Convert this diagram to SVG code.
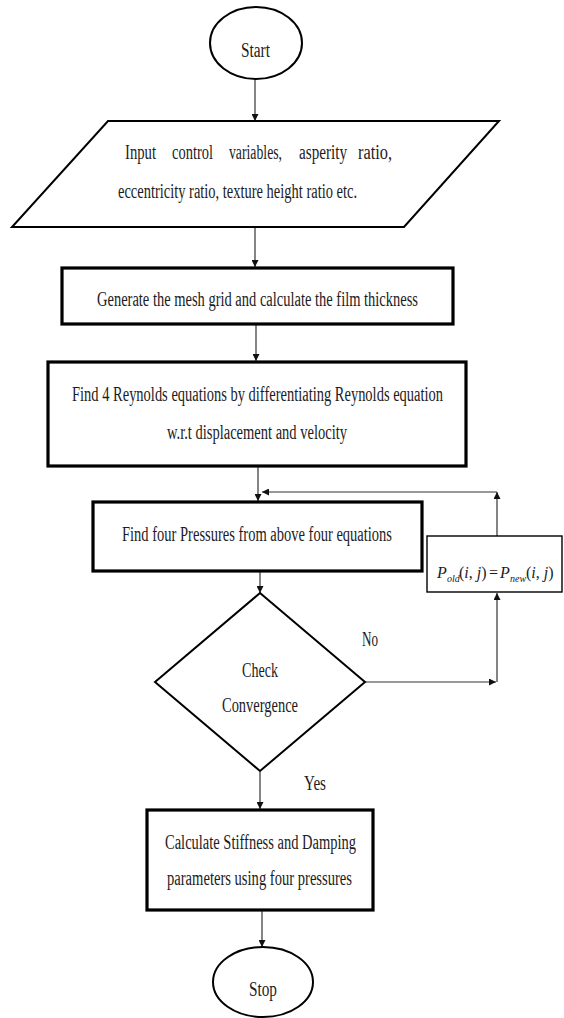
<svg xmlns="http://www.w3.org/2000/svg" width="564" height="1018" viewBox="0 0 564 1018">
<style>
text{font-family:"Liberation Serif","Times New Roman",serif;font-size:20px;fill:#1c1c24}
.thick{fill:#fff;stroke:#000;stroke-width:3.2}
.med{fill:#fff;stroke:#000;stroke-width:2}
.thin{fill:#fff;stroke:#000;stroke-width:1.4}
.ln{fill:none;stroke:#333;stroke-width:1.2}
.it{font-style:italic}
.sub{font-style:italic;font-size:10px}
.eq{font-size:16px}
</style>
<defs>
<marker id="ah" viewBox="0 0 10 10" refX="10" refY="5" markerWidth="7" markerHeight="7" markerUnits="userSpaceOnUse" orient="auto">
<path d="M0,0 L10,5 L0,10 z" fill="#111"/>
</marker>
</defs>
<rect width="564" height="1018" fill="#fff"/>

<g id="connectors">
<line class="ln" x1="255" y1="79" x2="255" y2="121" marker-end="url(#ah)"/>
<line class="ln" x1="255" y1="228" x2="255" y2="267" marker-end="url(#ah)"/>
<line class="ln" x1="256" y1="325" x2="256" y2="361" marker-end="url(#ah)"/>
<line class="ln" x1="258" y1="467" x2="258" y2="501" marker-end="url(#ah)"/>
<line class="ln" x1="260" y1="572" x2="260" y2="593" marker-end="url(#ah)"/>
<line class="ln" x1="365" y1="682" x2="496" y2="682" marker-end="url(#ah)"/>
<line class="ln" x1="497" y1="682" x2="497" y2="593" marker-end="url(#ah)"/>
<line class="ln" x1="497" y1="536" x2="497" y2="492" marker-end="url(#ah)"/>
<line class="ln" x1="497" y1="492" x2="262" y2="492" marker-end="url(#ah)"/>
<line class="ln" x1="260" y1="772" x2="260" y2="809" marker-end="url(#ah)"/>
<line class="ln" x1="262" y1="911" x2="262" y2="947" marker-end="url(#ah)"/>
</g>

<g id="start">
<ellipse class="med" cx="256" cy="43" rx="46" ry="36"/>
<text x="241" y="57" textLength="29" lengthAdjust="spacingAndGlyphs">Start</text>
</g>

<g id="input">
<polygon class="med" points="108,121 499,121 404,227 12,227"/>
<text x="125" y="159" textLength="31" lengthAdjust="spacingAndGlyphs">Input</text>
<text x="172" y="159" textLength="41" lengthAdjust="spacingAndGlyphs">control</text>
<text x="229" y="159" textLength="53" lengthAdjust="spacingAndGlyphs">variables,</text>
<text x="299" y="159" textLength="48" lengthAdjust="spacingAndGlyphs">asperity</text>
<text x="358" y="159" textLength="34" lengthAdjust="spacingAndGlyphs">ratio,</text>
<text x="118" y="198" textLength="239" lengthAdjust="spacingAndGlyphs">eccentricity ratio, texture height ratio etc.</text>
</g>

<g id="mesh">
<rect class="thick" x="62" y="268" width="391" height="56"/>
<text x="97" y="306" textLength="321" lengthAdjust="spacingAndGlyphs">Generate the mesh grid and calculate the film thickness</text>
</g>

<g id="reynolds">
<rect class="thick" x="48" y="362" width="418" height="104"/>
<text x="72" y="401" textLength="371" lengthAdjust="spacingAndGlyphs">Find 4 Reynolds equations by differentiating Reynolds equation</text>
<text x="167" y="439" textLength="180" lengthAdjust="spacingAndGlyphs">w.r.t displacement and velocity</text>
</g>

<g id="pressures">
<rect class="thick" x="93" y="502" width="329" height="69"/>
<text x="122" y="541" textLength="270" lengthAdjust="spacingAndGlyphs">Find four Pressures from above four equations</text>
</g>

<g id="update">
<rect class="thin" x="427" y="536" width="135" height="56"/>
<text class="eq" x="437" y="578"><tspan class="it">P</tspan><tspan class="sub" x="447" dy="4">old</tspan><tspan x="459" dy="-4">(</tspan><tspan class="it">i</tspan>, <tspan class="it">j</tspan>) <tspan x="489">=</tspan> <tspan class="it" x="500">P</tspan><tspan class="sub" x="510" dy="4">new</tspan><tspan x="526" dy="-4">(</tspan><tspan class="it">i</tspan>, <tspan class="it">j</tspan>)</text>
</g>

<g id="check">
<polygon class="med" points="260,593 365,682 260,771 155,682"/>
<text x="242" y="677" textLength="36" lengthAdjust="spacingAndGlyphs">Check</text>
<text x="222" y="712" textLength="76" lengthAdjust="spacingAndGlyphs">Convergence</text>
</g>

<g id="labels">
<text x="362" y="646" textLength="16" lengthAdjust="spacingAndGlyphs">No</text>
<text x="304" y="790" textLength="22" lengthAdjust="spacingAndGlyphs">Yes</text>
</g>

<g id="stiffness">
<rect class="thick" x="147" y="810" width="226" height="100"/>
<text x="165" y="849" textLength="191" lengthAdjust="spacingAndGlyphs">Calculate Stiffness and Damping</text>
<text x="167" y="885" textLength="185" lengthAdjust="spacingAndGlyphs">parameters using four pressures</text>
</g>

<g id="stop">
<ellipse class="med" cx="263" cy="982" rx="50" ry="35"/>
<text x="249" y="996" textLength="28" lengthAdjust="spacingAndGlyphs">Stop</text>
</g>
</svg>
